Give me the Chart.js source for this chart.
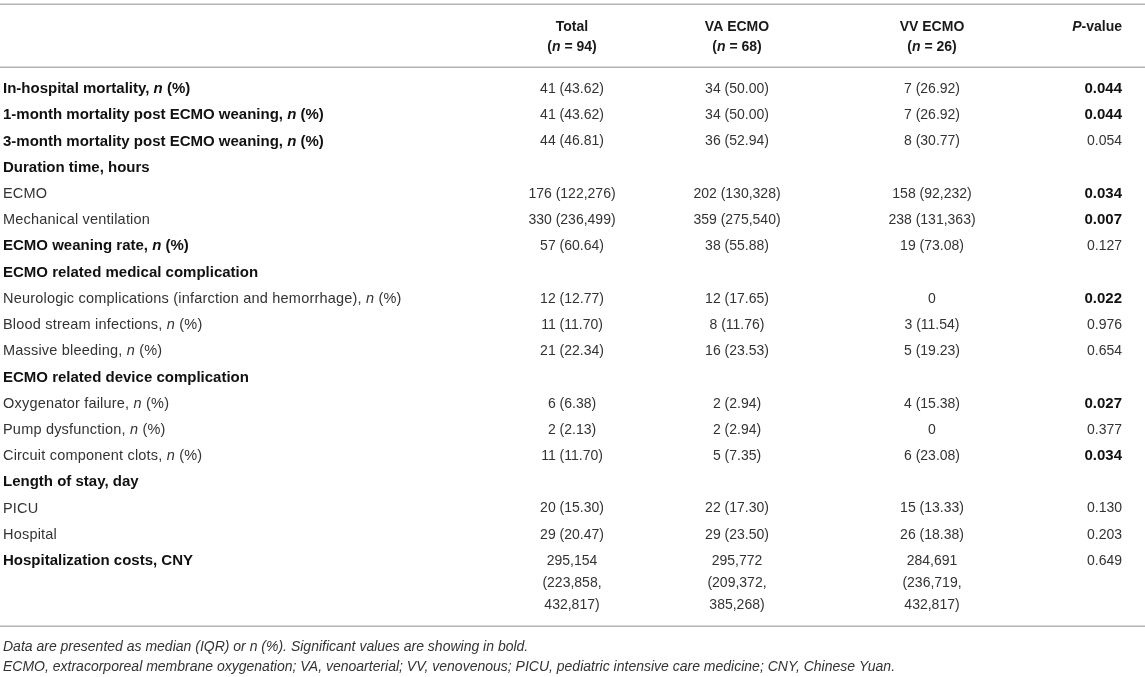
<!DOCTYPE html>
<html>
<head>
<meta charset="utf-8">
<script src="https://cdn.jsdelivr.net/npm/chart.js@4.4.0/dist/chart.umd.min.js"></script>
<style>
    html, body { margin: 0; padding: 0; background: #fff; overflow: hidden; }
    canvas { display: block; }
</style>
</head>
<body>
<canvas id="tbl" width="1145" height="677"></canvas>
<script>
// table data (text between * * is italic)
const columnHeads = ['', 'Total', 'VA ECMO', 'VV ECMO', '*P*-value'];
const groupSizes = ['', '(*n* = 94)', '(*n* = 68)', '(*n* = 26)', ''];

const rowLabels = [
    'In-hospital mortality, *n* (%)',
    '1-month mortality post ECMO weaning, *n* (%)',
    '3-month mortality post ECMO weaning, *n* (%)',
    'Duration time, hours',
    'ECMO',
    'Mechanical ventilation',
    'ECMO weaning rate, *n* (%)',
    'ECMO related medical complication',
    'Neurologic complications (infarction and hemorrhage), *n* (%)',
    'Blood stream infections, *n* (%)',
    'Massive bleeding, *n* (%)',
    'ECMO related device complication',
    'Oxygenator failure, *n* (%)',
    'Pump dysfunction, *n* (%)',
    'Circuit component clots, *n* (%)',
    'Length of stay, day',
    'PICU',
    'Hospital',
    'Hospitalization costs, CNY'
];
const boldRows = [0, 1, 2, 3, 6, 7, 11, 15, 18];

const totalValues = ['41 (43.62)', '41 (43.62)', '44 (46.81)', '', '176 (122,276)', '330 (236,499)',
    '57 (60.64)', '', '12 (12.77)', '11 (11.70)', '21 (22.34)', '', '6 (6.38)', '2 (2.13)',
    '11 (11.70)', '', '20 (15.30)', '29 (20.47)', '295,154\n(223,858,\n432,817)'];
const vaValues = ['34 (50.00)', '34 (50.00)', '36 (52.94)', '', '202 (130,328)', '359 (275,540)',
    '38 (55.88)', '', '12 (17.65)', '8 (11.76)', '16 (23.53)', '', '2 (2.94)', '2 (2.94)',
    '5 (7.35)', '', '22 (17.30)', '29 (23.50)', '295,772\n(209,372,\n385,268)'];
const vvValues = ['7 (26.92)', '7 (26.92)', '8 (30.77)', '', '158 (92,232)', '238 (131,363)',
    '19 (73.08)', '', '0', '3 (11.54)', '5 (19.23)', '', '4 (15.38)', '0',
    '6 (23.08)', '', '15 (13.33)', '26 (18.38)', '284,691\n(236,719,\n432,817)'];
const pValues = ['0.044', '0.044', '0.054', '', '0.034', '0.007', '0.127', '', '0.022', '0.976',
    '0.654', '', '0.027', '0.377', '0.034', '', '0.130', '0.203', '0.649'];
const boldP = [0, 1, 4, 5, 8, 12, 14];

const footnotes = [
    'Data are presented as median (IQR) or n (%). Significant values are showing in bold.',
    'ECMO, extracorporeal membrane oxygenation; VA, venoarterial; VV, venovenous; PICU, pediatric intensive care medicine; CNY, Chinese Yuan.'
];

// layout
const colAnchor = [3, 572, 737, 932, 1122];
const colAlign = ['left', 'center', 'center', 'center', 'right'];
const headY = [-2.36, -1.6];
const ruleY = [-3.24, -0.84, 20.48];
const noteY = [21.3, 22.06];
const FONT = '"Liberation Sans", Arial, Helvetica, sans-serif';
const SIZE = 14;
const LINE_GAP = 22;

function drawRich(ctx, text, x, y, align, bold, size, allItalic, spacing) {
    const parts = text.split('*');
    const fonts = parts.map(function (_, i) {
        const italic = allItalic || i % 2 === 1;
        return (italic ? 'italic ' : '') + (bold ? 'bold ' : '') + size + 'px ' + FONT;
    });
    ctx.letterSpacing = (spacing || 0) + 'px';
    let width = 0;
    parts.forEach(function (p, i) {
        ctx.font = fonts[i];
        width += ctx.measureText(p).width;
    });
    let cx = x;
    if (align === 'center') cx = x - width / 2;
    if (align === 'right') cx = x - width;
    ctx.textAlign = 'left';
    ctx.textBaseline = 'middle';
    parts.forEach(function (p, i) {
        ctx.font = fonts[i];
        ctx.fillText(p, cx, y);
        cx += ctx.measureText(p).width;
    });
    ctx.letterSpacing = '0px';
}

const tablePlugin = {
    id: 'tableText',
    afterDatasetsDraw: function (chart) {
        const ctx = chart.ctx;
        const xs = chart.scales.x;
        const ys = chart.scales.y;
        ctx.save();

        ctx.strokeStyle = '#b3b3b3';
        ctx.lineWidth = 1.5;
        ruleY.forEach(function (v) {
            const py = Math.round(ys.getPixelForValue(v)) + 0.25;
            ctx.beginPath();
            ctx.moveTo(xs.left, py);
            ctx.lineTo(xs.right, py);
            ctx.stroke();
        });

        ctx.fillStyle = '#1a1a1a';
        columnHeads.forEach(function (h, c) {
            if (!h) return;
            drawRich(ctx, h, xs.getPixelForValue(colAnchor[c]), ys.getPixelForValue(headY[0]), colAlign[c], true, SIZE);
        });
        groupSizes.forEach(function (h, c) {
            if (!h) return;
            drawRich(ctx, h, xs.getPixelForValue(colAnchor[c]), ys.getPixelForValue(headY[1]), colAlign[c], true, SIZE);
        });

        chart.data.datasets.forEach(function (ds, d) {
            const meta = chart.getDatasetMeta(d);
            meta.data.forEach(function (pt, r) {
                const txt = ds.cells[r];
                if (!txt) return;
                const bold = ds.boldIdx.indexOf(r) !== -1;
                let size = SIZE;
                let spacing = 0;
                if (bold) size = 15;
                else if (ds.isLabel) { size = 14.5; spacing = 0.2; }
                ctx.fillStyle = bold ? '#111' : '#333';
                txt.split('\n').forEach(function (line, k) {
                    drawRich(ctx, line, pt.x, pt.y + k * LINE_GAP, ds.align, bold, size, false, spacing);
                });
            });
        });

        ctx.fillStyle = '#333';
        footnotes.forEach(function (t, i) {
            drawRich(ctx, t, xs.getPixelForValue(3), ys.getPixelForValue(noteY[i]), 'left', false, 14, true);
        });
        ctx.restore();
    }
};

const cellColumns = [rowLabels, totalValues, vaValues, vvValues, pValues];
const boldByColumn = [boldRows, [], [], [], boldP];

new Chart(document.getElementById('tbl').getContext('2d'), {
    type: 'scatter',
    data: {
        datasets: cellColumns.map(function (cells, c) {
            return {
                label: columnHeads[c] || 'label',
                cells: cells,
                isLabel: c === 0,
                boldIdx: boldByColumn[c],
                align: colAlign[c],
                data: cells.map(function (_, r) { return { x: colAnchor[c], y: r }; }),
                pointRadius: 0,
                pointHoverRadius: 0
            };
        })
    },
    options: {
        responsive: false,
        animation: false,
        devicePixelRatio: 1,
        events: [],
        layout: { padding: 0 },
        plugins: { legend: { display: false }, tooltip: { enabled: false } },
        scales: {
            x: { type: 'linear', display: false, min: 0, max: 1145 },
            y: { type: 'linear', display: false, reverse: true, min: -3.394, max: 22.424 }
        }
    },
    plugins: [tablePlugin]
});
</script>
</body>
</html>
